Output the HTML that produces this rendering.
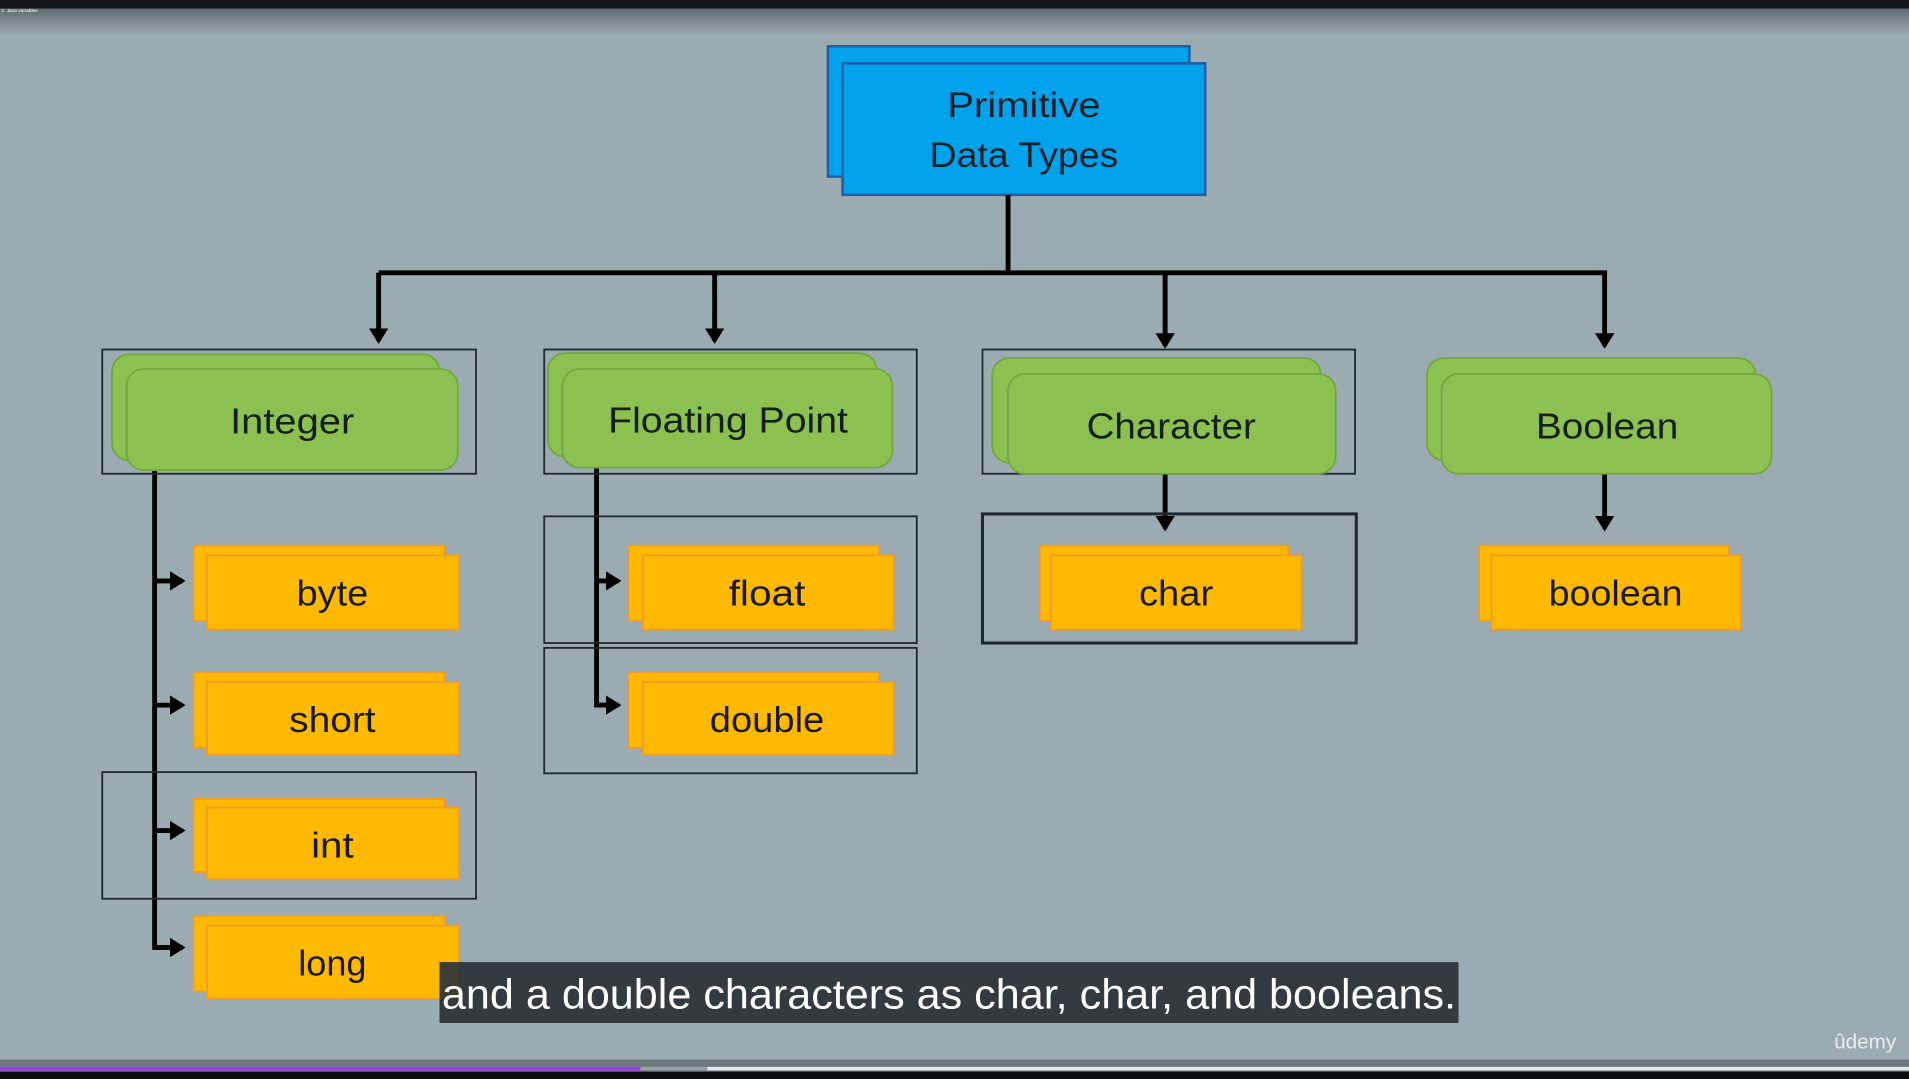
<!DOCTYPE html>
<html><head><meta charset="utf-8"><style>
html,body{margin:0;padding:0;background:#9aacb2;overflow:hidden}
svg{display:block}
text{font-family:"Liberation Sans","DejaVu Sans",sans-serif}
</style></head><body>
<svg width="1909" height="1079" viewBox="0 0 1568 886" preserveAspectRatio="none" xmlns="http://www.w3.org/2000/svg">
<defs>
<marker id="a" markerWidth="4" markerHeight="4" refX="2.6" refY="2" orient="auto" markerUnits="strokeWidth"><path d="M0,0 L3.2,2 L0,4 z" fill="#000"/></marker>
<linearGradient id="tg" x1="0" y1="0" x2="0" y2="1"><stop offset="0" stop-color="#5f6c72"/><stop offset="1" stop-color="#9aacb2"/></linearGradient>
</defs>
<rect width="1568" height="886" fill="#9aacb2"/>
<rect x="0" y="7" width="1568" height="22" fill="url(#tg)"/>
<rect x="0" y="0" width="1568" height="7" fill="#111317"/>
<text x="1" y="10" font-size="4" fill="#fff">2. Java variables</text>

<!-- Primitive -->
<rect x="680" y="38" width="297" height="107" fill="#00a2ec" stroke="#1d5ea6" stroke-width="2"/>
<rect x="692" y="52" width="298" height="108" fill="#00a2ec" stroke="#1d5ea6" stroke-width="2"/>
<g font-size="29" text-anchor="middle" fill="#10202a" lengthAdjust="spacingAndGlyphs">
<text x="841" y="96" textLength="126" lengthAdjust="spacingAndGlyphs">Primitive</text>
<text x="841" y="137" textLength="155" lengthAdjust="spacingAndGlyphs">Data Types</text>
</g>

<g stroke="#000" stroke-width="4" fill="none">
<path d="M828 160 V224 M311 224 H1320"/>
<path d="M311 224 V280" marker-end="url(#a)"/>
<path d="M587 224 V280" marker-end="url(#a)"/>
<path d="M957 224 V284" marker-end="url(#a)"/>
<path d="M1318 224 V284" marker-end="url(#a)"/>
<path d="M127 386 V778 H150"/>
<path d="M127 477 H150" marker-end="url(#a)"/>
<path d="M127 579 H150" marker-end="url(#a)"/>
<path d="M127 682 H150" marker-end="url(#a)"/>
<path d="M127 778 H150" marker-end="url(#a)"/>
<path d="M490 384 V579 H508"/>
<path d="M490 477 H508" marker-end="url(#a)"/>
<path d="M490 579 H508" marker-end="url(#a)"/>
<path d="M957 389 V434" marker-end="url(#a)"/>
<path d="M1318 389 V434" marker-end="url(#a)"/>
</g>

<!-- outlines -->
<g fill="none" stroke="#1e2a30" stroke-width="1.5">
<rect x="84" y="287" width="307" height="102"/>
<rect x="447" y="287" width="306" height="102"/>
<rect x="807" y="287" width="306" height="102"/>
<rect x="84" y="634" width="307" height="104"/>
<rect x="447" y="424" width="306" height="104"/>
<rect x="447" y="532" width="306" height="103"/>
<rect x="807" y="422" width="307" height="106" stroke-width="2.5"/>
</g>

<!-- green -->
<g fill="#8cc152" stroke="#73a63e" stroke-width="1.5">
<rect x="92" y="291" width="269" height="87" rx="14"/>
<rect x="104" y="303" width="272" height="83" rx="14"/>
<rect x="450" y="290" width="270" height="85" rx="14"/>
<rect x="462" y="303" width="271" height="81" rx="14"/>
<rect x="815" y="294" width="270" height="86" rx="14"/>
<rect x="828" y="307" width="269" height="82" rx="14"/>
<rect x="1172" y="294" width="270" height="84" rx="14"/>
<rect x="1184" y="307" width="271" height="82" rx="14"/>
</g>
<g font-size="30" text-anchor="middle" fill="#142014">
<text x="240" y="356" textLength="102" lengthAdjust="spacingAndGlyphs">Integer</text>
<text x="598" y="355" textLength="197" lengthAdjust="spacingAndGlyphs">Floating Point</text>
<text x="962" y="360" textLength="139" lengthAdjust="spacingAndGlyphs">Character</text>
<text x="1320" y="360" textLength="117" lengthAdjust="spacingAndGlyphs">Boolean</text>
</g>

<!-- orange -->
<g fill="#ffb900" stroke="#f29a2a" stroke-width="1.5">
<rect x="159" y="448" width="206" height="62"/><rect x="170" y="456" width="207" height="61"/>
<rect x="159" y="552" width="206" height="62"/><rect x="170" y="560" width="207" height="60"/>
<rect x="159" y="656" width="206" height="60"/><rect x="170" y="663" width="207" height="59"/>
<rect x="159" y="752" width="206" height="62"/><rect x="170" y="760" width="207" height="60"/>
<rect x="516" y="448" width="206" height="62"/><rect x="528" y="456" width="206" height="61"/>
<rect x="516" y="552" width="206" height="62"/><rect x="528" y="560" width="206" height="60"/>
<rect x="854" y="448" width="204" height="62"/><rect x="863" y="456" width="206" height="61"/>
<rect x="1215" y="448" width="205" height="62"/><rect x="1225" y="456" width="205" height="61"/>
</g>
<g font-size="30" text-anchor="middle" fill="#1a1a10">
<text x="273" y="497" textLength="59" lengthAdjust="spacingAndGlyphs">byte</text>
<text x="273" y="601" textLength="71" lengthAdjust="spacingAndGlyphs">short</text>
<text x="273" y="704" textLength="35" lengthAdjust="spacingAndGlyphs">int</text>
<text x="273" y="801" textLength="56" lengthAdjust="spacingAndGlyphs">long</text>
<text x="630" y="497" textLength="63" lengthAdjust="spacingAndGlyphs">float</text>
<text x="630" y="601" textLength="94" lengthAdjust="spacingAndGlyphs">double</text>
<text x="966" y="497" textLength="61" lengthAdjust="spacingAndGlyphs">char</text>
<text x="1327" y="497" textLength="110" lengthAdjust="spacingAndGlyphs">boolean</text>
</g>

<!-- subtitle -->
<rect x="361" y="790" width="837" height="50" fill="#2b3136" fill-opacity="0.92"/>
<text x="779.5" y="828" font-size="34" text-anchor="middle" fill="#fff" textLength="833" lengthAdjust="spacingAndGlyphs">and a double characters as char, char, and booleans.</text>
<text x="1532" y="861" font-size="17" text-anchor="middle" fill="#e8eef0">ûdemy</text>

<!-- bottom bar -->
<rect x="0" y="870" width="1568" height="16" fill="#6b777c"/>
<rect x="0" y="876" width="526" height="3" fill="#a435f0"/>
<rect x="526" y="876" width="55" height="3" fill="#9aa2aa"/>
<rect x="581" y="876" width="987" height="3" fill="#e6e8ea"/>
<rect x="0" y="880" width="1568" height="6" fill="#0c0d10"/>
</svg>
</body></html>
